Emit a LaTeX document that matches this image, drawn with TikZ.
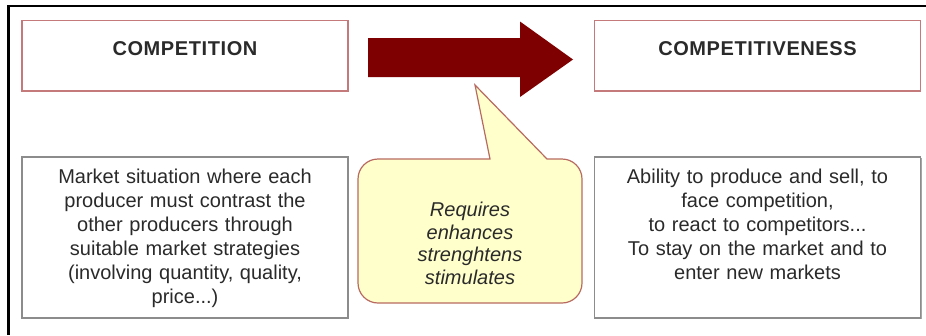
\documentclass[tikz,border=0pt]{standalone}
\usepackage{fontspec}
\setmainfont{Liberation Sans}
\usetikzlibrary{shadows}
\definecolor{boxred}{HTML}{C47A7A}
\definecolor{arrowred}{HTML}{7F0000}
\definecolor{noteyellow}{HTML}{FFFFCC}
\definecolor{notered}{HTML}{B86A60}
\definecolor{boxgray}{HTML}{8C8C8C}
\definecolor{inkgray}{HTML}{2A2A2A}
\begin{document}
\begin{tikzpicture}[x=1pt, y=-1pt,
	headbox/.style={draw=boxred, line width=1.3pt, minimum width=326pt, minimum height=70.5pt, inner sep=0pt, text depth=14pt, text=inkgray, font=\fontsize{20}{24}\selectfont\bfseries\addfontfeature{LetterSpace=3}},
	textbox/.style={draw=boxgray, line width=1.2pt, fill=white, minimum width=326pt, minimum height=161pt, inner sep=0pt, text width=310pt, align=center, text depth=122pt, text=inkgray, font=\fontsize{20}{24}\selectfont, drop shadow={shadow xshift=1.2pt, shadow yshift=-1.2pt, fill=gray!70, opacity=1}},
	notebox/.style={draw=notered, line width=1.2pt, fill=noteyellow},
	notetext/.style={align=center, inner sep=0pt, text=inkgray, font=\fontsize{20}{22.5}\selectfont\itshape}]
		% % Page and frame
			\useasboundingbox (0,0) rectangle (926,335);
			\draw[line width=2.5pt] (926,6) -| (8.5,335);
		% % Heading boxes
			\foreach \x/\name/\label in {
				185/compL/COMPETITION,
				757.5/compR/COMPETITIVENESS
			}{
				\node[headbox] (\name) at (\x,55.75) {\label};
			}
		% % Big arrow between the headings
			\fill[arrowred] (368,38) -- (520,38) -- (520,21.5) -- (573,59.5) -- (520,97) -- (520,77) -- (368,77) -- cycle;
		% % Description boxes
			\node[textbox] (descL) at (185,237.5) {Market situation where each\\producer must contrast the\\other producers through\\suitable market strategies\\(involving quantity, quality,\\price...)};
			\node[textbox] (descR) at (757.5,237.5) {Ability to produce and sell, to\\face competition,\\to react to competitors...\\To stay on the market and to\\enter new markets};
		% % Callout
			\draw[notebox] (358,230) [rounded corners=20pt] |- (420,159) [sharp corners] -- (490,159) -- (475,85) -- (547,159) [rounded corners=20pt] -| (582,303) -| (358,230) -- cycle;
			\node[notetext] (note) at (470,243.5) {Requires\\enhances\\strenghtens\\stimulates};
\end{tikzpicture}
\end{document}
